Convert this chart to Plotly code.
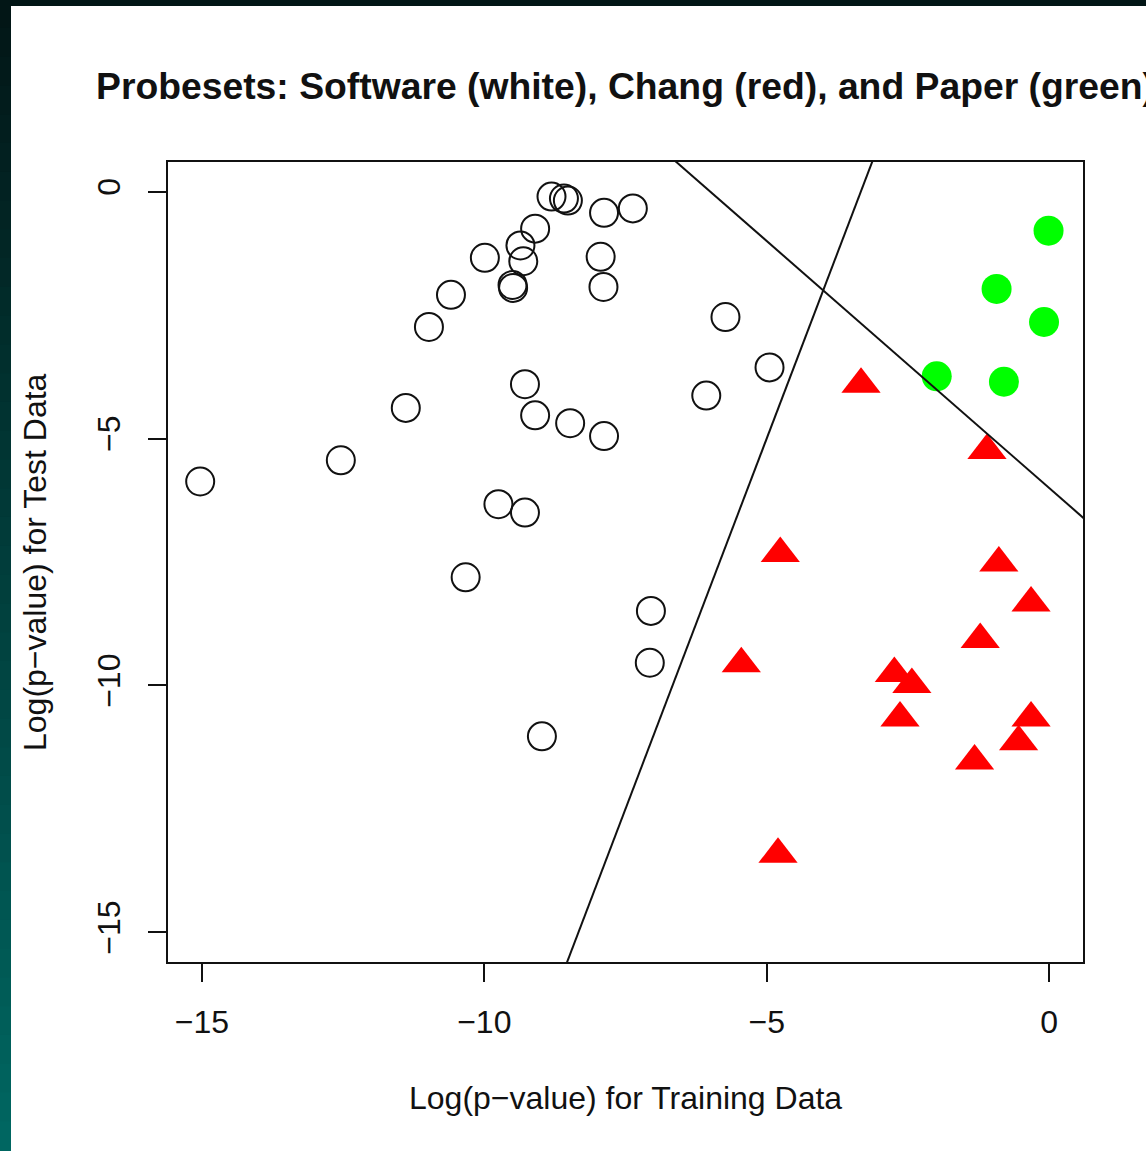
import plotly.graph_objects as go

# Software probesets (open circles)
software_x = [-15.03, -12.54, -11.39, -10.98, -10.59, -9.99, -10.33, -9.75, -9.28, -9.50,
              -9.49, -9.36, -9.31, -9.10, -9.28, -9.10, -8.81, -8.59, -8.52, -8.48,
              -8.98, -7.88, -7.37, -7.94, -7.89, -7.88, -7.05, -7.07, -5.73, -6.07, -4.95]
software_y = [-5.87, -5.44, -4.38, -2.74, -2.09, -1.34, -7.81, -6.33, -6.50, -1.89,
              -1.95, -1.09, -1.41, -0.75, -3.90, -4.53, -0.10, -0.14, -0.18, -4.69,
              -11.03, -0.43, -0.34, -1.32, -1.93, -4.95, -8.49, -9.54, -2.54, -4.13, -3.56]

# Chang probesets (red triangles)
chang_x = [-3.33, -1.10, -4.76, -0.89, -0.32, -1.22, -5.45, -2.74, -2.43, -2.64,
           -0.32, -0.54, -1.32, -4.80]
chang_y = [-3.90, -5.24, -7.33, -7.52, -8.33, -9.07, -9.56, -9.76, -9.98, -10.66,
           -10.66, -11.14, -11.53, -13.42]

# Paper probesets (green dots)
paper_x = [-0.01, -0.93, -0.09, -1.99, -0.80]
paper_y = [-0.79, -1.97, -2.64, -3.74, -3.85]

# separating lines y = a + b*x
line_intercepts = [-6, 10]
line_slopes = [-1, 3]

tick_vals = [-15, -10, -5, 0]
axis_range = [-15.6, 0.6]

FONT = "Liberation Sans, Arial, Helvetica, sans-serif"
W, H = 1146, 1151
L, R, T, B = 168, 1083, 162, 962


def px_x(p):
    return (p - L) / (R - L)


def px_y(p):
    return (B - p) / (B - T)


fig = go.Figure()

fig.add_trace(go.Scatter(
    x=software_x, y=software_y, mode="markers",
    marker=dict(symbol="circle-open", size=28, color="#111111", line=dict(width=2)),
    showlegend=False))

fig.add_trace(go.Scatter(
    x=chang_x, y=chang_y, mode="markers",
    marker=dict(symbol="triangle-up", size=34, color="#ff0000", line=dict(width=0)),
    showlegend=False))

fig.add_trace(go.Scatter(
    x=paper_x, y=paper_y, mode="markers",
    marker=dict(symbol="circle", size=30, color="#00ff00", line=dict(width=0)),
    showlegend=False))

# ablines across the full x range, clipped by the axes
for a, b in zip(line_intercepts, line_slopes):
    xs = [axis_range[0] - 5, axis_range[1] + 5]
    fig.add_trace(go.Scatter(
        x=xs, y=[a + b * v for v in xs], mode="lines",
        line=dict(color="#111111", width=2), showlegend=False))

# dark window frame on the left and top
shapes = []
n = 40
top_c, bot_c = (2, 22, 22), (0, 102, 97)
for i in range(n):
    t = i / (n - 1)
    c = tuple(round(top_c[k] + (bot_c[k] - top_c[k]) * t) for k in range(3))
    shapes.append(dict(
        type="rect", xref="paper", yref="paper", layer="above",
        x0=px_x(-2), x1=px_x(11), y0=px_y(H * (i + 1) / n + 1), y1=px_y(H * i / n - 1),
        fillcolor="rgb(%d,%d,%d)" % c, line=dict(width=0)))
shapes.append(dict(
    type="rect", xref="paper", yref="paper", layer="above",
    x0=px_x(-2), x1=px_x(W + 2), y0=px_y(6), y1=px_y(-2),
    fillcolor="#021616", line=dict(width=0)))

axis_common = dict(
    range=axis_range, tickvals=tick_vals, ticks="outside", ticklen=18, tickwidth=2,
    tickcolor="#111111", showline=True, linecolor="#111111", linewidth=2, mirror=True,
    showgrid=False, zeroline=False, tickfont=dict(family=FONT, size=32, color="#111111"))

fig.update_layout(
    width=W, height=H,
    margin=dict(l=L, r=W - R, t=T, b=H - B),
    paper_bgcolor="white", plot_bgcolor="white",
    font=dict(family=FONT, color="#111111"),
    title=dict(
        text="Probesets: Software (white), Chang (red), and Paper (green)",
        x=0.5, xref="paper", xanchor="center",
        y=1 - 86 / H, yref="container", yanchor="middle",
        font=dict(family=FONT, size=37.3, weight="bold", color="#111111")),
    xaxis=dict(**axis_common, ticklabelstandoff=13),
    yaxis=dict(**axis_common, tickangle=-90, ticklabelstandoff=15),
    shapes=shapes,
    annotations=[
        dict(text="Log(p−value) for Training Data", xref="paper", yref="paper",
             x=0.5, y=px_y(1098), xanchor="center", yanchor="middle", showarrow=False,
             font=dict(family=FONT, size=32, color="#111111")),
        dict(text="Log(p−value) for Test Data", xref="paper", yref="paper",
             x=px_x(35), y=0.5, xanchor="center", yanchor="middle", showarrow=False,
             textangle=-90, font=dict(family=FONT, size=32, color="#111111")),
    ],
)

fig.write_html("out.html", config={"displayModeBar": False},
               post_script="document.body.style.margin = '0';")
